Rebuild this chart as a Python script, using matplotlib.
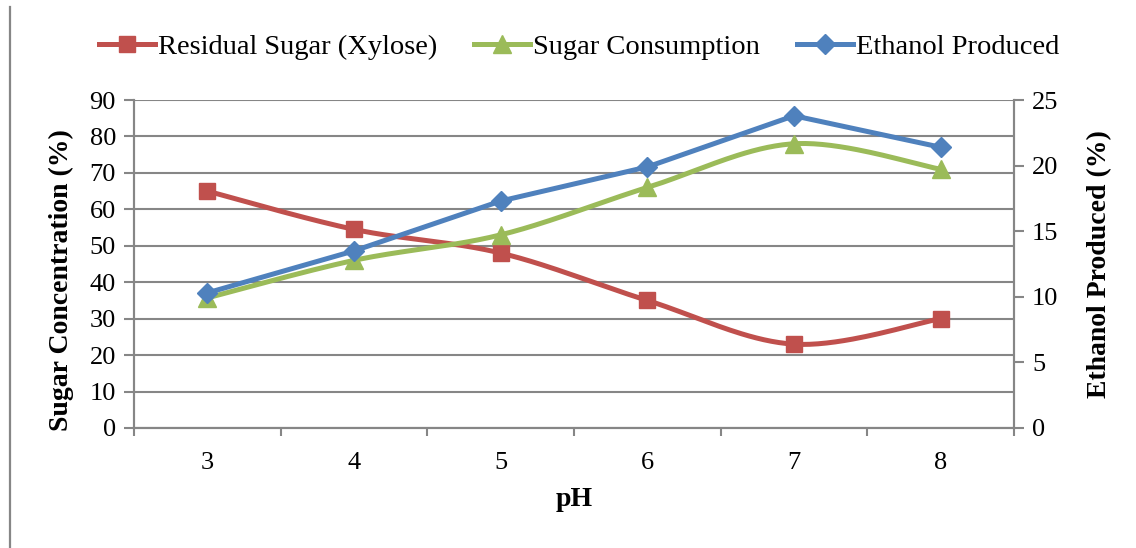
import numpy as np
import matplotlib
matplotlib.use("Agg")
import matplotlib.pyplot as plt
from matplotlib.lines import Line2D

# Data
ph_levels = ["3", "4", "5", "6", "7", "8"]
residual_sugar = [65, 54.5, 48, 35, 23, 30]
sugar_consumption = [35.7, 46, 53, 66, 78, 71]
ethanol_produced = [10.3, 13.5, 17.3, 19.9, 23.8, 21.4]

RED = "#C0504D"
GREEN = "#9BBB59"
BLUE = "#4F81BD"
GRID = "#868686"

plt.rcParams["font.family"] = ["Liberation Serif", "DejaVu Serif"]


def smooth(xs, ys, n=40):
    """Catmull-Rom style Bezier smoothing through every point."""
    xs = np.asarray(xs, float)
    ys = np.asarray(ys, float)
    px = np.concatenate([[xs[0]], xs, [xs[-1]]])
    py = np.concatenate([[ys[0]], ys, [ys[-1]]])
    out_x, out_y = [], []
    t = np.linspace(0, 1, n)
    for i in range(1, len(px) - 2):
        p0 = np.array([px[i], py[i]])
        p3 = np.array([px[i + 1], py[i + 1]])
        c1 = p0 + (np.array([px[i + 1], py[i + 1]]) - np.array([px[i - 1], py[i - 1]])) / 6
        c2 = p3 - (np.array([px[i + 2], py[i + 2]]) - np.array([px[i], py[i]])) / 6
        b = ((1 - t) ** 3)[:, None] * p0 + (3 * (1 - t) ** 2 * t)[:, None] * c1 \
            + (3 * (1 - t) * t ** 2)[:, None] * c2 + (t ** 3)[:, None] * p3
        out_x.extend(b[:, 0])
        out_y.extend(b[:, 1])
    return np.array(out_x), np.array(out_y)


fig = plt.figure(figsize=(11.36, 5.48), dpi=100)
ax = fig.add_axes([0.118, 0.219, 0.7746, 0.5985])
ax2 = ax.twinx()

x = np.arange(len(ph_levels))
lw = 3.6

sx, sy = smooth(x, residual_sugar)
ax.plot(sx, sy, color=RED, lw=lw, solid_capstyle="round", zorder=3)
ax.plot(x, residual_sugar, ls="none", marker="s", ms=12, color=RED, zorder=4)

sx, sy = smooth(x, sugar_consumption)
ax.plot(sx, sy, color=GREEN, lw=lw, solid_capstyle="round", zorder=5)
ax.plot(x, sugar_consumption, ls="none", marker="^", ms=13, color=GREEN, zorder=6)

ax2.plot(x, ethanol_produced, color=BLUE, lw=lw, solid_capstyle="round",
         solid_joinstyle="round", zorder=3)
ax2.plot(x, ethanol_produced, ls="none", marker="D", ms=10.5, color=BLUE, zorder=4)

# Axes ranges and ticks
ax.set_xlim(-0.5, len(ph_levels) - 0.5)
ax.set_ylim(0, 90)
ax2.set_ylim(0, 25)
ax.set_yticks(np.arange(0, 91, 10))
ax2.set_yticks(np.arange(0, 26, 5))
ax.set_xticks(x)
ax.set_xticklabels(ph_levels)
ax.set_xticks(np.arange(-0.5, len(ph_levels), 1), minor=True)
ax.tick_params(axis="x", which="major", length=0, pad=17, labelsize=19)
ax.tick_params(axis="x", which="minor", length=6, width=1.5, color=GRID, direction="out")
ax.tick_params(axis="y", length=7, width=1.5, color=GRID, labelsize=19, pad=6)
ax2.tick_params(axis="y", length=7, width=1.5, color=GRID, labelsize=19, pad=6)

ax.yaxis.grid(True, color=GRID, lw=1.5)
ax.set_axisbelow(True)

for a in (ax, ax2):
    a.spines["top"].set_visible(False)
    for side in ("left", "right", "bottom"):
        a.spines[side].set_color(GRID)
        a.spines[side].set_linewidth(1.5)

ax.set_ylabel("Sugar Concentration (%)", fontsize=20, fontweight="bold")
ax.yaxis.set_label_coords(-0.068, 0.45)
ax2.set_ylabel("Ethanol Produced (%)", fontsize=20, fontweight="bold", labelpad=21)
ax.set_xlabel("pH", fontsize=20, fontweight="bold", labelpad=10)

handles = [
    Line2D([], [], color=RED, lw=lw, marker="s", ms=12),
    Line2D([], [], color=GREEN, lw=lw, marker="^", ms=13),
    Line2D([], [], color=BLUE, lw=lw, marker="D", ms=10.5),
]
labels = ["Residual Sugar (Xylose)", "Sugar Consumption", "Ethanol Produced"]
fig.legend(handles, labels, loc="center", bbox_to_anchor=(0.51, 0.914), ncol=3,
           frameon=False, fontsize=20.5, handlelength=1.95, handletextpad=0.12,
           columnspacing=1.3)

# Left border line of the frame
fig.add_artist(Line2D([0.0092, 0.0092], [0.0, 0.987], transform=fig.transFigure,
                      color=GRID, lw=1.6))

fig.savefig("out.png", dpi=100)
